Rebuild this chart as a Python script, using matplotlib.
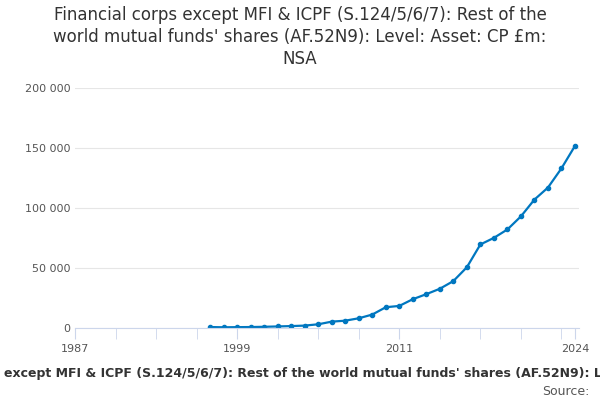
import matplotlib.pyplot as plt

years = list(range(1997, 2025))
values = [800, 600, 700, 800, 1000, 1300, 1600, 2000, 3100, 5300, 6100, 8100,
          11200, 17300, 18400, 24000, 28200, 32700, 39100, 50600, 69600, 75100,
          82100, 93000, 107000, 117000, 133000, 151700]

title = "Financial corps except MFI & ICPF (S.124/5/6/7): Rest of the world mutual funds' shares (AF.52N9): Level: Asset: CP £m: NSA"
color = '#0077c0'

fig = plt.figure(figsize=(6, 4), dpi=100)
ax = fig.add_axes([0.125, 0.18, 0.84, 0.6])
ax.plot(years, values, color=color, lw=1.6, marker='o', ms=3)

ax.set_xlim(1987, 2024.3)
ax.set_ylim(0, 200000)
ax.set_yticks(range(0, 200001, 50000))
ax.set_yticklabels(['0', '50 000', '100 000', '150 000', '200 000'])
ax.set_xticks(range(1987, 2025, 3), minor=True)
ax.set_xticks([1987, 1999, 2011, 2024])
ax.tick_params(axis='x', which='both', length=8, color='#ccd6eb', labelsize=8, labelcolor='#555555')
ax.tick_params(axis='y', length=0, labelsize=8, labelcolor='#555555')
ax.grid(axis='y', color='#e6e6e6', lw=0.8)
for s in ['top', 'right', 'left']:
    ax.spines[s].set_visible(False)
ax.spines['bottom'].set_color('#ccd6eb')

fig.text(0.5, 0.985, "Financial corps except MFI & ICPF (S.124/5/6/7): Rest of the\nworld mutual funds' shares (AF.52N9): Level: Asset: CP £m:\nNSA",
         ha='center', va='top', fontsize=12, color='#333333', linespacing=1.3)
fig.text(0.555, 0.065, title, ha='center', va='center', fontsize=9, fontweight='bold', color='#333333')
fig.text(0.982, 0.022, "Source:", ha='right', va='center', fontsize=9, color='#555555')

fig.savefig('out.png')
